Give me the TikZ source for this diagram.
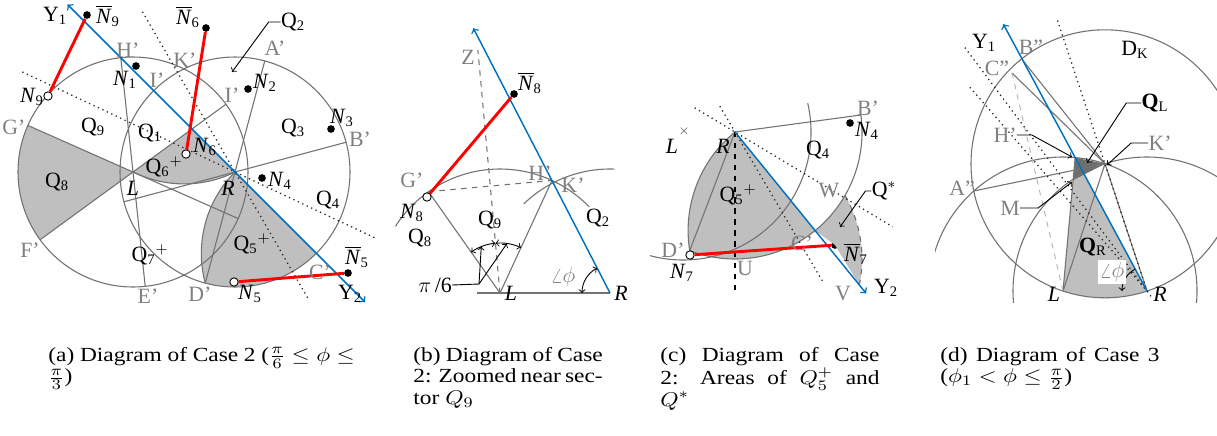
\documentclass[tikz,border=0pt]{standalone}
\usepackage{amsmath}
\usepackage{fontspec}
\setmainfont{Liberation Serif}
\usetikzlibrary{calc}

\definecolor{yblue}{RGB}{0,112,192}
\newcommand{\Nn}[1]{\textit{N}$_{\text{#1}}$}
\newcommand{\Nb}[1]{$\overline{\mbox{\textit{N}}}_{\text{#1}}$}
\newcommand{\Qn}[1]{Q$_{\text{#1}}$}
\newcommand{\Qp}[1]{Q$_{\text{#1}}{}^{+}$}

\tikzset{
  circ/.style={draw=black!55, line width=0.6pt},
  guide/.style={draw=black!85, dotted, line width=0.7pt},
  yaxis/.style={draw=yblue, line width=0.8pt},
  link/.style={draw=red, line width=1.6pt},
  full/.style={circle, fill=black, inner sep=0pt, minimum size=4.2pt},
  hollow/.style={circle, draw=black, fill=white, inner sep=0pt, minimum size=4.6pt, line width=0.5pt},
  lbl/.style={font=\fontsize{12}{14}\selectfont, inner sep=0pt},
  glbl/.style={lbl, text=black!50},
  zone/.style={fill=black!25},
  lead/.style={draw=black, line width=0.5pt},
  capt/.style={font=\fontsize{11}{11.8}\selectfont, inner sep=0pt, anchor=north west,
    align=justify, transform shape, xscale=1.17},
}

\begin{document}
\begin{tikzpicture}[x=0.55pt, y=-0.55pt]
\useasboundingbox (0,0) rectangle (1217,435);

% (a) case 2
\coordinate (aL) at (133,172);
\coordinate (aR) at (235,172);
\coordinate (aK) at (184,69);
\coordinate (aH) at ($(aL)+(-96.1:115)$);
\coordinate (aE) at ($(aL)+(83.9:115)$);
\coordinate (aG) at ($(aL)+(-156.1:115)$);
\coordinate (aGo) at ($(aL)+(23.9:115)$);
\coordinate (aF) at ($(aL)+(143.9:115)$);
\coordinate (aI) at ($(aL)+(-36.1:115)$);
\coordinate (aA) at ($(aR)+(-75:115)$);
\coordinate (aD) at ($(aR)+(105:115)$);
\coordinate (aB) at ($(aR)+(-15:115)$);
\coordinate (aBo) at ($(aR)+(165:115)$);
\coordinate (aC) at ($(aR)+(45:115)$);
\coordinate (aP) at (192,129);
\coordinate (aY1) at ($(aR)+(-135:237)$);
\coordinate (aY2) at ($(aR)+(45:184)$);
\coordinate (aQ2t) at (232,72);

\fill[zone] (aL) -- (aG) arc[start angle=-156.1, end angle=-216.1, radius=115] -- cycle;
\fill[zone] (aL) -- (aP) -- (aR) arc[start angle=63.7, end angle=116.3, radius=115] -- cycle;
\fill[zone] (aR) -- (aC) arc[start angle=45, end angle=105, radius=115]
  arc[start angle=165, end angle=225, radius=115] -- cycle;

\draw[circ] (aL) circle[radius=115];
\draw[circ] (aR) circle[radius=115];
\draw[circ] (aR) arc[start angle=63.7, end angle=116.3, radius=115];
\draw[circ] (aD) arc[start angle=165, end angle=225, radius=115];
\draw[circ] (aG) -- (aGo);
\draw[circ] (aF) -- (aI);
\draw[circ] (aH) -- (aE);
\draw[circ] (aA) -- (aD);
\draw[circ] (aB) -- (aBo);
\draw[guide] ($(aR)+(-120:185)$) -- ($(aR)+(60:148)$);
\draw[guide] ($(aR)+(205.2:235)$) -- ($(aR)+(25.2:157)$);
\draw[yaxis, <->] (aY1) -- (aY2);

\node[hollow] (aN9) at (48,96) {};
\node[full] (aN9b) at (87,15) {};
\node[hollow] (aN6) at (186,154) {};
\node[full] (aN6b) at (206,28) {};
\node[hollow] (aN5) at (234,282) {};
\node[full] (aN5b) at (348,273) {};
\draw[link] (aN9) -- (aN9b);
\draw[link] (aN6) -- (aN6b);
\draw[link] (aN5) -- (aN5b);
\node[full] (aN1) at (136,66) {};
\node[full] (aN2) at (248,89) {};
\node[full] (aN3) at (331,129) {};
\node[full] (aN4) at (262,178) {};

\node[lbl] (aY1l) at (55,16) {Y$_{\text{1}}$};
\node[lbl] (aN9bl) at (108,16) {\Nb9};
\node[lbl] (aN6bl) at (188,17) {\Nb6};
\node[lbl] (aQ2) at (293,22) {\Qn2};
\draw[lead, ->] (aQ2.west) -- ++(-12,0) -- (aQ2t);
\node[glbl] (aHl) at (128,50) {H'};
\node[glbl] (aJl) at (157,80) {I'};
\node[glbl] (aKl) at (185,60) {K'};
\node[glbl] (aAl) at (275,48) {A'};
\node[glbl] (aIl) at (232,95) {I'};
\node[lbl] (aN1l) at (125,80) {\Nn1};
\node[lbl] (aN2l) at (265,83) {\Nn2};
\node[lbl] (aQ3) at (293,128) {\Qn3};
\node[lbl] (aN3l) at (342,118) {\Nn3};
\node[glbl] (aBl) at (360,139) {B'};
\node[lbl] (aQ9) at (93,127) {\Qn9};
\node[lbl] (aQ1) at (150,133) {\Qn1};
\node[lbl] (aN9l) at (32,97) {\Nn9};
\node[glbl] (aGl) at (14,127) {G'};
\node[lbl] (aQ6) at (164,167) {\Qp6};
\node[lbl] (aN6l) at (205,147) {\Nn6};
\node[lbl] (aLl) at (133,188) {\textit{L}};
\node[lbl] (aRl) at (228,188) {\textit{R}};
\node[lbl] (aN4l) at (280,181) {\Nn4};
\node[lbl] (aQ4) at (328,200) {\Qn4};
\node[lbl] (aQ8) at (57,182) {\Qn8};
\node[glbl] (aFl) at (30,250) {F'};
\node[lbl] (aQ7) at (150,255) {\Qp7};
\node[lbl] (aQ5) at (252,244) {\Qp5};
\node[glbl] (aEl) at (148,296) {E'};
\node[glbl] (aDl) at (200,294) {D'};
\node[lbl] (aN5l) at (250,294) {\Nn5};
\node[glbl] (aCl) at (320,272) {C'};
\node[lbl] (aN5bl) at (357,257) {\Nb5};
\node[lbl] (aY2l) at (350,294) {Y$_{\text{2}}$};

% (b) zoom near Q9
\coordinate (bL) at (500,293);
\coordinate (bR) at (610,293);
\coordinate (bG) at ($(bL)+(-125.2:124)$);
\coordinate (bH) at ($(bL)+(-65.2:124)$);
\coordinate (bZ) at ($(bL)+(-95.2:244)$);
\coordinate (bE) at (477,293);
\coordinate (bY) at ($(bR)+(-117.3:298)$);
\coordinate (bPa) at (479,284);

\draw[circ] ($(bL)+(-147.4:124)$) arc[start angle=-147.4, end angle=-44, radius=124];
\draw[circ] ($(bR)+(-134:124)$) arc[start angle=-134, end angle=-88, radius=124];
\draw[circ] (bE) -- (bR);
\draw[circ] (bG) -- (bL) -- (bH);
\draw[circ, dashed] (bG) -- (bH);
\draw[circ, dashed] (bL) -- (bZ);
\draw[yaxis, ->] (bR) -- (bY);
\draw[lead, <->] ($(bL)+(-125.2:50)$) arc[start angle=-125.2, end angle=-95.2, radius=50];
\draw[lead, <->] ($(bL)+(-95.2:50)$) arc[start angle=-95.2, end angle=-65.2, radius=50];
\draw[lead, <->] ($(bR)+(180:28)$) arc[start angle=180, end angle=242.7, radius=28];

\node[hollow] (bN8) at (427,197) {};
\node[full] (bN8b) at (514,94) {};
\draw[link] (bN8) -- (bN8b);

\node[glbl] (bZl) at (468,57) {Z};
\node[lbl] (bN8bl) at (530,83) {\Nb8};
\node[glbl] (bGl) at (412,180) {G'};
\node[glbl] (bHl) at (540,173) {H'};
\node[glbl] (bKl) at (573,185) {K'};
\node[lbl] (bN8l) at (412,213) {\Nn8};
\node[lbl] (bQ9) at (490,220) {\Qn9};
\node[lbl] (bQ8) at (420,238) {\Qn8};
\node[lbl] (bQ2) at (598,218) {\Qn2};
\node[glbl] (bphi) at (563,277) {$\angle\phi$};
\node[lbl] (bPi) at (435,285) {$\pi$\,/6};
\draw[lead] (bPi.east) -- (bPa);
\draw[lead, ->] (bPa) -- ($(bL)+(-112:50)$);
\draw[lead, ->] (bPa) -- ($(bL)+(-82:50)$);
\node[lbl] (bLl) at (511,293) {\textit{L}};
\node[lbl] (bRl) at (621,293) {\textit{R}};

% (c) areas of Q5+ and Q*
\coordinate (cR) at (735,132);
\coordinate (cL) at (683,132);
\coordinate (cC) at ($(cR)+(50.9:127)$);
\coordinate (cD) at ($(cR)+(110.9:127)$);
\coordinate (cB) at ($(cR)+(-7.7:127)$);
\coordinate (cU) at ($(cR)+(90:127)$);
\coordinate (cW) at ($(cR)+(30:127)$);
\coordinate (cV) at ($(cU)+(11.8:127)$);
\coordinate (cY) at ($(cR)+(50.9:208)$);
\coordinate (cUb) at (735,292);
\coordinate (cQt) at (840,227);

\node[full] (cN7b) at (835,245) {};
\fill[zone] (cR) -- (cC) arc[start angle=50.9, end angle=110.9, radius=127]
  arc[start angle=170.9, end angle=230.9, radius=127] -- cycle;
\fill[zone] (cC) arc[start angle=50.9, end angle=30, radius=127]
  arc[start angle=-30, end angle=11.8, radius=127] -- (cN7b.center) -- cycle;

\draw[circ] (cB) arc[start angle=-7.7, end angle=110.9, radius=127];
\draw[circ] ($(cL)+(-13:128)$) arc[start angle=-13, end angle=105, radius=128];
\draw[circ] (cD) arc[start angle=170.9, end angle=230.9, radius=127];
\draw[circ, dashed] (cW) arc[start angle=-30, end angle=11.8, radius=127];
\draw[circ] (cB) -- (cR) -- (cD);
\draw[guide] ($(cR)+(211:47)$) -- ($(cR)+(31:184)$);
\draw[guide] ($(cR)+(-120.4:30)$) -- ($(cR)+(59.6:174)$);
\draw[dashed, line width=0.6pt] (cR) -- (cUb);
\draw[yaxis, ->] (cR) -- (cY);

\node[hollow] (cN7) at (690,255) {};
\draw[link] (cN7) -- (cN7b);
\node[full] (cN4) at (850,123) {};

\node[glbl] (cBl) at (868,108) {B'};
\node[lbl] (cN4l) at (867,131) {\Nn4};
\node[lbl] (cQ4) at (818,150) {\Qn4};
\node[lbl] (cRl) at (723,146) {\textit{R}};
\node[lbl] (cLl) at (672,146) {\textit{L}};
\node[inner sep=0pt, font=\fontsize{7}{8}\selectfont, text=black!70] (cLx) at (684,131) {$\times$};
\node[lbl] (cQ5) at (738,195) {\Qp5};
\node[glbl] (cWl) at (829,191) {W};
\node[lbl] (cQs) at (884,191) {Q$^{*}$};
\draw[lead, ->] (cQs.west) -- ++(-6,0) -- (cQt);
\node[glbl] (cCl) at (802,243) {C'};
\node[lbl] (cN7bl) at (856,254) {\Nb7};
\node[glbl] (cDl) at (673,250) {D'};
\node[lbl] (cN7l) at (682,273) {\Nn7};
\node[glbl] (cUl) at (745,268) {U};
\node[glbl] (cVl) at (843,294) {V};
\node[lbl] (cY2l) at (886,288) {Y$_{\text{2}}$};

% (d) case 3
\coordinate (dL) at (1063,291);
\coordinate (dR) at (1147,291);
\coordinate (dK) at (1105,163.8);
\coordinate (dA) at ($(dL)+(-131.7:134)$);
\coordinate (dH) at ($(dL)+(-84.8:134)$);
\coordinate (dM) at ($(dH)!0.17!(dL)$);
\coordinate (dP) at ($(dR)!0.875!(dH)$);
\coordinate (dB) at ($(dR)!1.73!(dH)$);
\coordinate (dC) at (1012,73);
\coordinate (dY) at ($(dR)!2!(dH)$);
\coordinate (dQLt) at (1087,163);
\coordinate (dKt) at (1107,165);
\coordinate (dHt) at (1072,157);
\coordinate (dMt) at (1072,182);

\fill[zone] (dL) -- (dM) -- (dP) -- (dR) arc[start angle=71.7, end angle=108.3, radius=134] -- cycle;
\fill[black!57] (dH) -- (dK) -- (dM) -- cycle;

\begin{scope}
\clip (935,0) rectangle (1217,302);
\draw[circ] (dL) circle[radius=134];
\draw[circ] (dR) circle[radius=134];
\end{scope}
\draw[circ] (dK) circle[radius=134];
\draw[circ] (dA) -- (dK);
\draw[circ] (dC) -- (dK);
\draw[circ] (dB) -- (dK);
\draw[circ] (dK) -- (dR);
\draw[circ] (dK) -- (dL);
\draw[circ] (dH) -- (dL);
\draw[black!30, dashed, line width=0.5pt] (dC) -- (dL);
\draw[guide] ($(dR)+(-126.8:304)$) -- ($(dR)+(53.2:10)$);
\draw[guide] ($(dR)+(-131:270)$) -- (dR);
\draw[guide] ($(dR)+(-108.3:285)$) -- (dR);
\draw[yaxis, ->] (dR) -- (dY);
\draw[lead, ->] ($(dR)+(-118.4:25)$) arc[start angle=-118.4, end angle=-180, radius=25];

\node[lbl] (dY1l) at (984,43) {Y$_{\text{1}}$};
\node[glbl] (dBl) at (1031,47) {B''};
\node[glbl] (dCl) at (997,68) {C''};
\node[lbl] (dDK) at (1135,50) {D$_{\text{K}}$};
\node[lbl] (dQL) at (1155,103) {\textbf{Q}$_{\text{L}}$};
\draw[lead, ->] (dQL.west) -- ++(-15,0) -- (dQLt);
\node[glbl] (dKl) at (1160,143) {K'};
\draw[lead, ->] (dKl.west) -- ++(-17,0) -- (dKt);
\node[glbl] (dHl) at (1005,135) {H'};
\draw[lead, ->] (dHl.east) -- ++(15,0) -- (dHt);
\node[glbl] (dAl) at (962,188) {A''};
\node[glbl] (dMl) at (1010,208) {M};
\draw[lead, ->] (dMl.east) -- ++(18,0) -- (dMt);
\node[lbl] (dQR) at (1093,247) {\textbf{Q}$_{\text{R}}$};
\node[lbl, fill=white, inner sep=1pt, text=black!50] (dphi) at (1112,272) {$\angle\phi$};
\node[lbl] (dLl) at (1054,294) {\textit{L}};
\node[lbl] (dRl) at (1160,294) {\textit{R}};

% captions
\node[capt, text width=144pt] (capa) at (48,347)
  {(a) Diagram of Case 2 ($\frac{\pi}{6}\leq\phi\leq$\linebreak $\frac{\pi}{3}$)};
\node[capt, text width=89pt] (capb) at (413,347)
  {(b) Diagram of Case\linebreak 2: Zoomed near \mbox{sec-}\linebreak{}tor $Q_9$};
\node[capt, text width=103pt] (capc) at (660,347)
  {(c) Diagram of Case\linebreak 2: Areas of $Q_5^+$ and\linebreak $Q^*$};
\node[capt, text width=103pt] (capd) at (940,347)
  {(d) Diagram of Case 3\linebreak ($\phi_1<\phi\leq\frac{\pi}{2}$)};
\end{tikzpicture}
\end{document}
